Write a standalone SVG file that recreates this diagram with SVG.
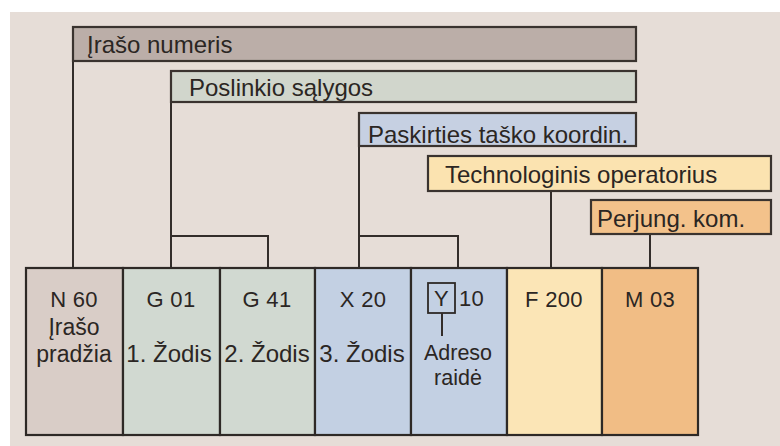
<svg xmlns="http://www.w3.org/2000/svg" width="780" height="446" viewBox="0 0 780 446">
<style>
.bar{stroke:#3a332f;stroke-width:2.2}
.box{stroke:#2e2926;stroke-width:2.2}
.lbl{font-family:"Liberation Sans",Arial,sans-serif;font-size:24px;fill:#2b2623}
.code{font-family:"Liberation Sans",Arial,sans-serif;font-size:22px;fill:#2b2623;letter-spacing:0.3px}
.w{font-family:"Liberation Sans",Arial,sans-serif;font-size:23px;fill:#2b2623}
.a{font-family:"Liberation Sans",Arial,sans-serif;font-size:21.5px;fill:#2b2623}
.c{text-anchor:middle}
.ln{fill:none;stroke:#332d2a;stroke-width:2}
</style>
<rect x="0" y="0" width="780" height="446" fill="#ffffff"/>
<rect x="10" y="12" width="770" height="434" fill="#e6ddd7"/>
<g id="connectors">
<path class="ln" d="M73 61V268"/>
<path class="ln" d="M171 102V268M171 236H268V268"/>
<path class="ln" d="M359 146V268M359 236H458V268"/>
<path class="ln" d="M551 191V268"/>
<path class="ln" d="M650 234V268"/>
</g>
<g id="bar-irasonumeris">
<rect class="bar" x="73" y="27" width="563" height="34" fill="#bbaea8"/>
<text class="lbl" x="87" y="53">Įrašo numeris</text>
</g>
<g id="bar-poslinkio">
<rect class="bar" x="171" y="71" width="465" height="31" fill="#d1d6cc"/>
<text class="lbl" x="189" y="96">Poslinkio sąlygos</text>
</g>
<g id="bar-paskirties">
<rect class="bar" x="359" y="113" width="277" height="33" fill="#c6d0e2"/>
<text class="lbl" x="368" y="143">Paskirties taško koordin.</text>
</g>
<g id="bar-technologinis">
<rect class="bar" x="428" y="156" width="343" height="35" fill="#fbe3b0"/>
<text class="lbl" x="445" y="183">Technologinis operatorius</text>
</g>
<g id="bar-perjung">
<rect class="bar" x="591" y="200" width="180" height="34" fill="#f3c28b"/>
<text class="lbl" x="597" y="227">Perjung. kom.</text>
</g>
<g id="box-n60">
<rect class="box" x="26" y="268" width="97" height="167" fill="#d9cdc7"/>
<text class="code c" x="74" y="307">N 60</text>
<text class="w c" x="74" y="335">Įrašo</text>
<text class="w c" x="74" y="362">pradžia</text>
</g>
<g id="box-g01">
<rect class="box" x="123" y="268" width="97" height="167" fill="#d1d9d1"/>
<text class="code c" x="171" y="307">G 01</text>
<text class="lbl c" x="169" y="362">1. Žodis</text>
</g>
<g id="box-g41">
<rect class="box" x="220" y="268" width="95" height="167" fill="#d1d9d1"/>
<text class="code c" x="267" y="307">G 41</text>
<text class="lbl c" x="267" y="362">2. Žodis</text>
</g>
<g id="box-x20">
<rect class="box" x="315" y="268" width="96" height="167" fill="#c3d0e3"/>
<text class="code c" x="363" y="307">X 20</text>
<text class="lbl c" x="362" y="362">3. Žodis</text>
</g>
<g id="box-y10">
<rect class="box" x="411" y="268" width="96" height="167" fill="#c3d0e3"/>
<rect x="428" y="283" width="27" height="30" fill="none" stroke="#2e2926" stroke-width="1.8"/>
<path class="ln" d="M442 313V336"/>
<text class="code c" x="441.5" y="306">Y</text>
<text class="code" x="459" y="306">10</text>
<text class="a c" x="458" y="360">Adreso</text>
<text class="a c" x="458" y="385">raidė</text>
</g>
<g id="box-f200">
<rect class="box" x="507" y="268" width="95" height="167" fill="#fbe5b6"/>
<text class="code c" x="554" y="307">F 200</text>
</g>
<g id="box-m03">
<rect class="box" x="602" y="268" width="96" height="167" fill="#f1bd85"/>
<text class="code c" x="650" y="307">M 03</text>
</g>
</svg>
